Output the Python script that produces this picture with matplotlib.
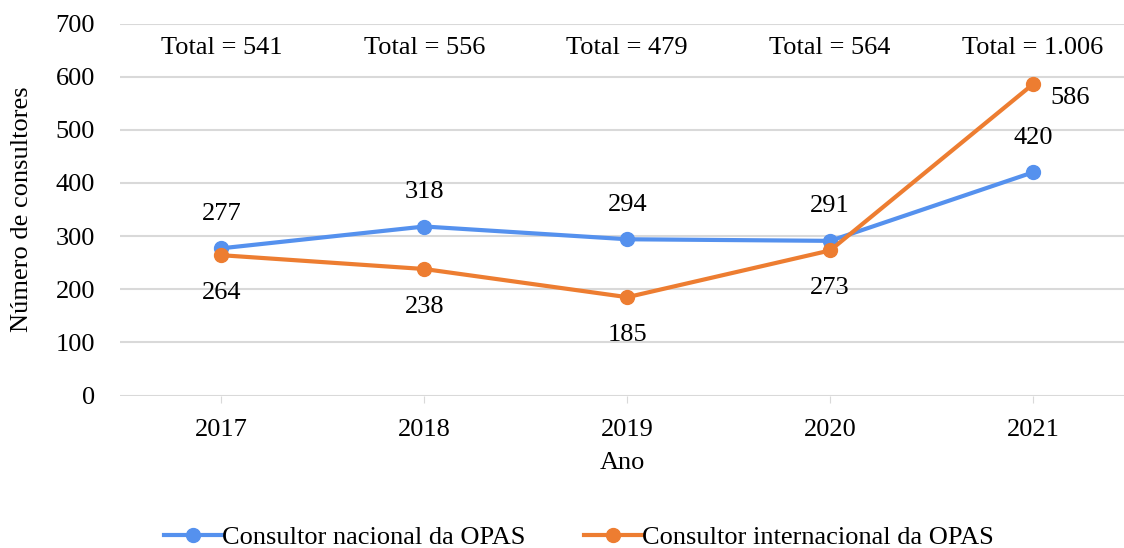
import numpy as np
import matplotlib.pyplot as plt

plt.rcParams['font.family'] = ['Liberation Serif', 'DejaVu Serif']

# dados
anos = ['2017', '2018', '2019', '2020', '2021']
nacional = [277, 318, 294, 291, 420]
internacional = [264, 238, 185, 273, 586]
totais = ['Total = 541', 'Total = 556', 'Total = 479', 'Total = 564', 'Total = 1.006']

azul = '#5591EE'
laranja = '#ED7D31'

fig = plt.figure(figsize=(11.24, 5.48), dpi=100)
ax = fig.add_axes([120 / 1124, 152.5 / 548, 1004 / 1124, 372 / 548])

x = np.arange(len(anos))
ax.plot(x, nacional, color=azul, lw=3, marker='o', ms=10, label='Consultor nacional da OPAS', zorder=3)
ax.plot(x, internacional, color=laranja, lw=3, marker='o', ms=10, label='Consultor internacional da OPAS', zorder=4)

fs = 19
for i in range(len(anos)):
    ax.annotate(str(nacional[i]), (x[i], nacional[i]), xytext=(0, 25), textcoords='offset points',
                ha='center', va='center', fontsize=fs)
    if i == len(anos) - 1:
        ax.annotate(str(internacional[i]), (x[i], internacional[i]), xytext=(27, -10), textcoords='offset points',
                    ha='center', va='center', fontsize=fs)
    else:
        ax.annotate(str(internacional[i]), (x[i], internacional[i]), xytext=(0, -27), textcoords='offset points',
                    ha='center', va='center', fontsize=fs)
    ax.text(x[i], 654, totais[i], ha='center', va='center', fontsize=fs)

ax.set_xlim(-0.5, 4.448)
ax.set_ylim(0, 700)
ax.set_yticks(range(0, 701, 100))
ax.set_xticks(x)
ax.set_xticklabels(anos)
ax.grid(axis='y', color='#D9D9D9', lw=1.5)
ax.set_axisbelow(True)
for s in ax.spines.values():
    s.set_visible(False)
ax.tick_params(axis='y', length=0, labelsize=fs, pad=18)
ax.tick_params(axis='x', length=5, color='#D9D9D9', labelsize=fs, pad=12)
ax.set_xlabel('Ano', fontsize=fs, labelpad=8)
ax.set_ylabel('Número de consultores', fontsize=fs, labelpad=16)

fig.legend(loc='lower center', bbox_to_anchor=(0.515, -0.045), ncol=2, frameon=False,
           fontsize=fs, handlelength=2.2, handletextpad=0.0, columnspacing=2.2)

fig.savefig('out.png', dpi=100)
